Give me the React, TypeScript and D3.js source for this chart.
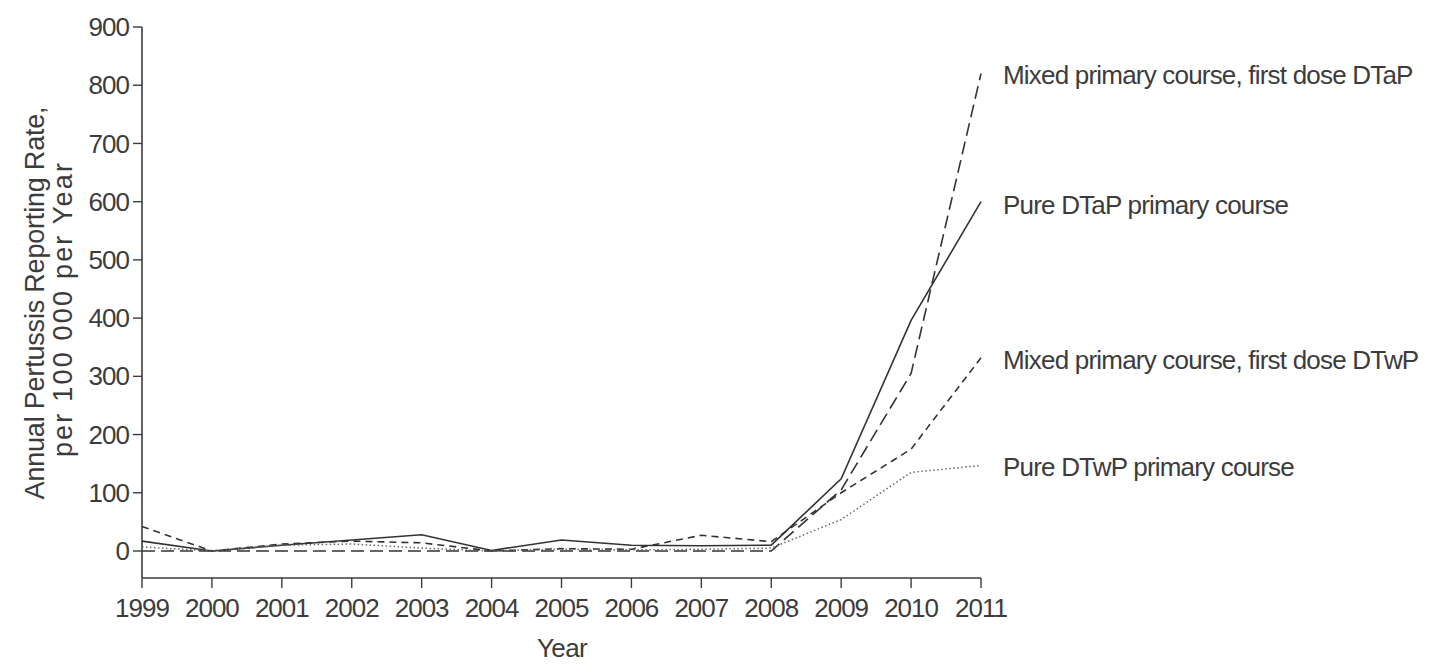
import React from "react";
import * as d3 from "d3";

const years = [1999, 2000, 2001, 2002, 2003, 2004, 2005, 2006, 2007, 2008, 2009, 2010, 2011];
const yTicks = [0, 100, 200, 300, 400, 500, 600, 700, 800, 900];

const mixedDTaP = [0, 0, 0, 0, 0, 0, 0, 0, 0, 0, 105, 305, 820];
const pureDTaP = [17, 0, 10, 19, 28, 1, 19, 10, 9, 10, 124, 396, 600];
const mixedDTwP = [42, 0, 12, 17, 14, 0, 4, 3, 27, 16, 100, 175, 332];
const pureDTwP = [7, 0, 10, 12, 5, 0, 3, 2, 3, 5, 54, 135, 147];

const seriesNames = [
  "Mixed primary course, first dose DTaP",
  "Pure DTaP primary course",
  "Mixed primary course, first dose DTwP",
  "Pure DTwP primary course",
];

if (typeof document !== "undefined") document.body.style.margin = "0";

export default function App() {
  const W = 1431, H = 664;
  const x = d3.scaleLinear().domain([1999, 2011]).range([142, 981]);
  const y = d3.scaleLinear().domain([0, 900]).range([551, 27]);
  const yBottom = y(-46.4);
  const font = "'Liberation Sans', Arial, Helvetica, sans-serif";
  const ink = "#3c3c3c";
  const fs = 26;

  const series = [
    { name: seriesNames[0], values: mixedDTaP, dash: "13,6", color: "#333", width: 1.6 },
    { name: seriesNames[1], values: pureDTaP, dash: "", color: "#333", width: 1.6 },
    { name: seriesNames[2], values: mixedDTwP, dash: "7,5", color: "#333", width: 1.6 },
    { name: seriesNames[3], values: pureDTwP, dash: "1.5,2.5", color: "#666", width: 1.5 },
  ];
  const labelY = [75, 205, 360, 467];

  const line = d3
    .line<number>()
    .x((_, i) => x(years[i]))
    .y((d) => y(d));

  return (
    <svg width={W} height={H} style={{ display: "block", background: "#fff" }}>
      {/* y axis */}
      <line x1={142} x2={142} y1={y(900)} y2={yBottom} stroke={ink} strokeWidth={1.6} />
      {yTicks.map((t) => (
        <g key={t}>
          <line x1={133} x2={142} y1={y(t)} y2={y(t)} stroke={ink} strokeWidth={1.4} />
          <text
            x={129}
            y={y(t)}
            dy="0.35em"
            textAnchor="end"
            fontFamily={font}
            fontSize={fs}
            letterSpacing={-1}
            fill={ink}
          >
            {t}
          </text>
        </g>
      ))}
      {/* x axis */}
      <line x1={x(1999)} x2={x(2011)} y1={yBottom} y2={yBottom} stroke={ink} strokeWidth={1.6} />
      {years.map((yr) => (
        <g key={yr}>
          <line x1={x(yr)} x2={x(yr)} y1={yBottom} y2={yBottom + 10} stroke={ink} strokeWidth={1.4} />
          <text
            x={x(yr)}
            y={608}
            dy="0.35em"
            textAnchor="middle"
            fontFamily={font}
            fontSize={fs}
            letterSpacing={-1}
            fill={ink}
          >
            {yr}
          </text>
        </g>
      ))}
      <text x={562} y={648} dy="0.35em" textAnchor="middle" fontFamily={font} fontSize={fs} letterSpacing={-0.6} fill={ink}>
        Year
      </text>
      <text
        transform={`translate(35,303) rotate(-90)`}
        textAnchor="middle"
        dy="0.35em"
        fontFamily={font}
        fontSize={27}
        letterSpacing={-0.2}
        fill={ink}
      >
        Annual Pertussis Reporting Rate,
      </text>
      <text
        transform={`translate(63,309) rotate(-90)`}
        textAnchor="middle"
        dy="0.35em"
        fontFamily={font}
        fontSize={27}
        letterSpacing={2.2}
        fill={ink}
      >
        per 100 000 per Year
      </text>
      {/* lines */}
      {series.map((s) => (
        <path
          key={s.name}
          d={line(s.values) || ""}
          fill="none"
          stroke={s.color}
          strokeWidth={s.width}
          strokeDasharray={s.dash || undefined}
        />
      ))}
      {series.map((s, i) => (
        <text
          key={s.name + "l"}
          x={1003}
          y={labelY[i]}
          dy="0.35em"
          fontFamily={font}
          fontSize={fs}
          letterSpacing={-0.8}
          fill={ink}
        >
          {s.name}
        </text>
      ))}
    </svg>
  );
}
